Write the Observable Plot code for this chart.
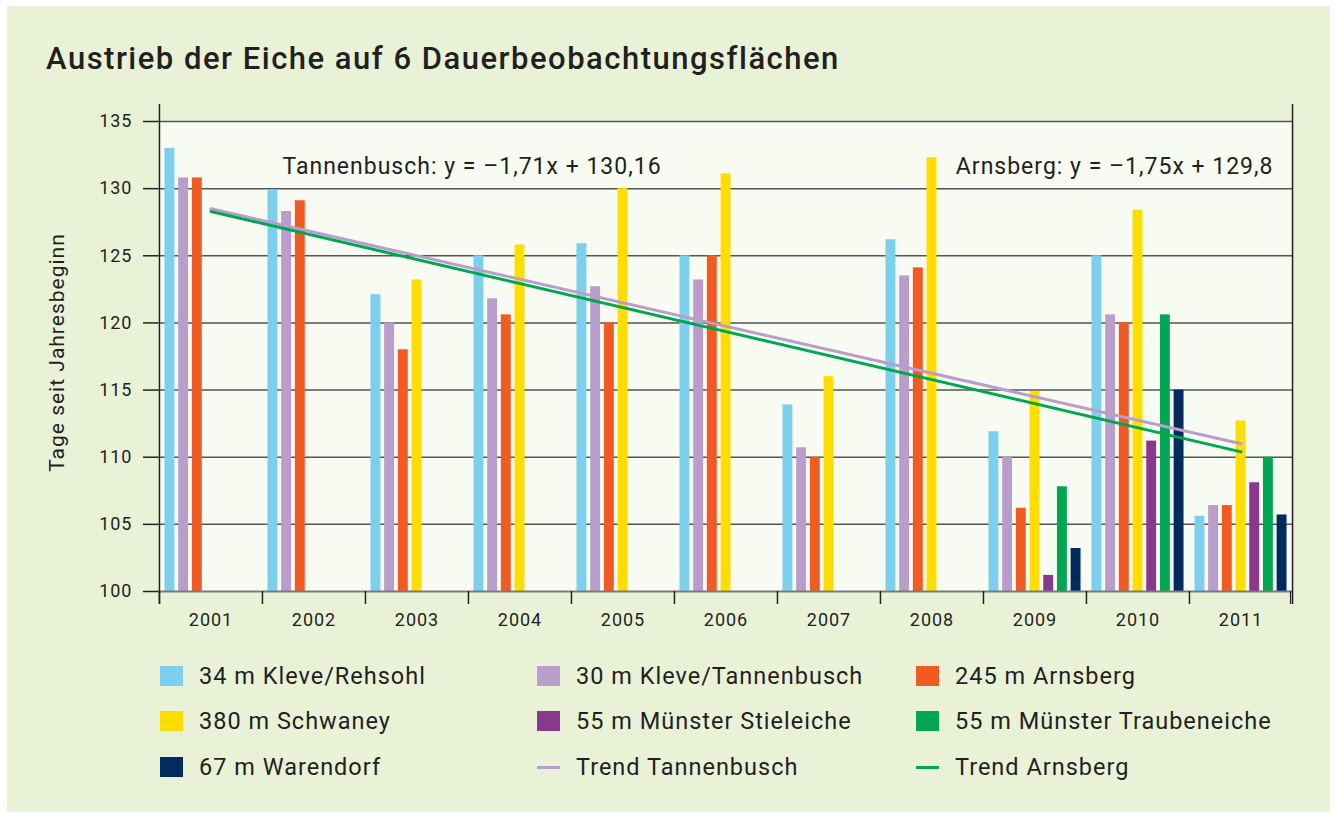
<!DOCTYPE html>
<html><head><meta charset="utf-8">
<script src="https://cdn.jsdelivr.net/npm/d3@7"></script>
<script src="https://cdn.jsdelivr.net/npm/@observablehq/plot@0.6"></script>
<style>
html,body{margin:0;padding:0;background:#fff;width:1336px;height:816px;overflow:hidden;font-family:Roboto,sans-serif;color:#231f20}
#panel{position:absolute;left:7px;top:6px;width:1323px;height:806px;background:#e9f2d7}
#title{position:absolute;left:46px;top:43px;font-size:31px;line-height:31px;font-weight:500;letter-spacing:1.5px;white-space:nowrap}
#chart{position:absolute;left:0;top:90px}
.lg{position:absolute;height:20px;display:flex;align-items:center;font-size:23.5px;letter-spacing:1px;white-space:nowrap}
.sw{width:23px;height:20px;margin-right:16px;flex:none}
.ln{width:23px;height:3px;margin-right:16px;flex:none}
</style></head><body>
<div id="panel"></div>
<div id="title">Austrieb der Eiche auf 6 Dauerbeobachtungsflächen</div>
<div id="chart"></div>
<div id="legend"></div>
<script>
const years = ["2001","2002","2003","2004","2005","2006","2007","2008","2009","2010","2011"];
const seriesNames = ["34 m Kleve/Rehsohl","30 m Kleve/Tannenbusch","245 m Arnsberg","380 m Schwaney","55 m Münster Stieleiche","55 m Münster Traubeneiche","67 m Warendorf"];
const rehsohl      = [133.0, 129.9, 122.1, 125.0, 125.9, 125.0, 113.9, 126.2, 111.9, 125.0, 105.6];
const tannenbusch  = [130.8, 128.3, 120.0, 121.8, 122.7, 123.2, 110.7, 123.5, 110.0, 120.6, 106.4];
const arnsberg     = [130.8, 129.1, 118.0, 120.6, 120.0, 125.0, 110.0, 124.1, 106.2, 120.0, 106.4];
const schwaney     = [null, null, 123.2, 125.8, 130.0, 131.1, 116.0, 132.3, 114.9, 128.4, 112.7];
const stieleiche   = [null, null, null, null, null, null, null, null, 101.2, 111.2, 108.1];
const traubeneiche = [null, null, null, null, null, null, null, null, 107.8, 120.6, 110.0];
const warendorf    = [null, null, null, null, null, null, null, null, 103.2, 115.0, 105.7];
const seriesValues = [rehsohl, tannenbusch, arnsberg, schwaney, stieleiche, traubeneiche, warendorf];
const colors = ["#7dd0ed","#b99dca","#f15a22","#ffdd00","#8a3790","#00a651","#002b5f"];
const trendNames = ["Trend Tannenbusch","Trend Arnsberg"];
const trendColors = ["#b99dca","#00a651"];
const trendYears = ["2001","2011"];
const trendTannenbusch = [128.5, 111.0];
const trendArnsberg = [128.3, 110.4];
const equations = ["Tannenbusch: y = \u20131,71x + 130,16", "Arnsberg: y = \u20131,75x + 129,8"];
const yTicks = [100,105,110,115,120,125,130,135];
const yLabel = "Tage seit Jahresbeginn";

const W = 1336, H = 560, mL = 158, mR = 44, mT = 31, mB = 59;
const innerH = H - mT - mB;
const bw = (W - mL - mR) / years.length;
const inner = d3.scaleBand().domain(seriesNames).range([0, bw]).paddingInner(0.27).paddingOuter(0.4);
const inset = (bw - inner.bandwidth()) / 2;
const ink = "#231f20";

const barMarks = seriesNames.map((name, i) => {
  const rows = years.map((yr, j) => ({year: yr, value: seriesValues[i][j]})).filter(d => d.value != null);
  return Plot.barY(rows, {x: "year", y1: 100, y2: "value", fill: colors[i], insetLeft: inset, insetRight: inset,
    dx: inner(name) + inner.bandwidth() / 2 - bw / 2});
});
const trendRows = (vals) => trendYears.map((yr, j) => ({year: yr, value: vals[j]}));

const chart = Plot.plot({
  width: W, height: H, marginLeft: mL, marginRight: mR, marginTop: mT, marginBottom: mB,
  style: {background: "transparent", fontFamily: "Roboto, sans-serif", fontSize: "18px", letterSpacing: "1px", color: ink, overflow: "visible"},
  x: {type: "band", domain: years, padding: 0, label: null, axis: null},
  y: {domain: [100, 135], label: null, axis: null},
  marks: [
    Plot.frame({fill: "#f8fbf2"}),
    Plot.gridY(yTicks.filter(t => t > 100), {stroke: "#555", strokeOpacity: 1, strokeWidth: 1.5}),
    ...barMarks,
    Plot.ruleY([100], {stroke: "#7a7a7a", strokeWidth: 2}),
    Plot.line(trendRows(trendTannenbusch), {x: "year", y: "value", stroke: trendColors[0], strokeWidth: 3}),
    Plot.line(trendRows(trendArnsberg), {x: "year", y: "value", stroke: trendColors[1], strokeWidth: 3}),
    Plot.axisY(yTicks, {tickSize: 15, tickPadding: 11, fontSize: 18, stroke: ink, strokeWidth: 1.5, label: null}),
    Plot.axisX({tickSize: 0, tickPadding: 22, fontSize: 18, label: null}),
    Plot.ruleX(years, {x: d => d, dx: -bw / 2, insetTop: innerH, insetBottom: -13, stroke: ink, strokeWidth: 1.5}),
    Plot.ruleX([years[years.length - 1]], {x: d => d, dx: bw / 2 - 2, insetTop: innerH, insetBottom: -13, stroke: ink, strokeWidth: 1.2}),
    Plot.ruleX([years[0]], {x: d => d, dx: -bw / 2, insetTop: -17, insetBottom: -13, stroke: ink, strokeWidth: 1.5}),
    Plot.ruleX([years[years.length - 1]], {x: d => d, dx: bw / 2, insetTop: -17, insetBottom: -13, stroke: ink, strokeWidth: 1.5}),
    Plot.text([yLabel], {frameAnchor: "left", textAnchor: "middle", rotate: -90, dx: -101, dy: -4, fontSize: 21, fill: ink}),
    Plot.text([equations[0]], {frameAnchor: "top-left", textAnchor: "start", dx: 124, dy: 36, fontSize: 23, fill: ink}),
    Plot.text([equations[1]], {frameAnchor: "top-right", textAnchor: "end", dx: -19, dy: 36, fontSize: 23, fill: ink})
  ]
});
document.getElementById("chart").appendChild(chart);

// legend
const items = seriesNames.map((n, i) => ({label: n, color: colors[i], line: false}))
  .concat(trendNames.map((n, i) => ({label: n, color: trendColors[i], line: true})));
const colX = [160, 537, 916];
const rowY = [676, 721, 767];
const lg = document.getElementById("legend");
items.forEach((it, k) => {
  const r = Math.floor(k / 3), c = k % 3;
  const d = document.createElement("div");
  d.className = "lg";
  d.style.left = colX[c] + "px";
  d.style.top = (rowY[r] - 10) + "px";
  const s = document.createElement("div");
  s.className = it.line ? "ln" : "sw";
  s.style.background = it.color;
  d.appendChild(s);
  const t = document.createElement("span");
  t.textContent = it.label;
  d.appendChild(t);
  lg.appendChild(d);
});
</script>
</body></html>
